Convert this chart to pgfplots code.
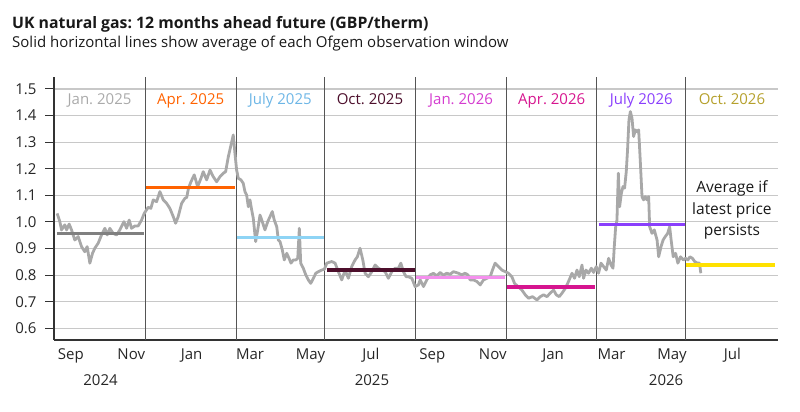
\documentclass[border=0pt]{standalone}
\usepackage{pgfplots}
\pgfplotsset{compat=1.18}
\usepackage{fontspec}
\setmainfont{Open Sans}
\frenchspacing

\definecolor{priceline}{HTML}{A8A8A8}
\definecolor{gridgray}{HTML}{C8C8C8}
\definecolor{axisdark}{HTML}{333333}
\definecolor{winline}{HTML}{555555}
\definecolor{janAline}{HTML}{808080}
\definecolor{janAtext}{HTML}{AAAAAA}
\definecolor{aprA}{HTML}{FF6200}
\definecolor{julAline}{HTML}{8ED4F5}
\definecolor{julAtext}{HTML}{6DB6E6}
\definecolor{octA}{HTML}{4D0F2C}
\definecolor{janBline}{HTML}{F590EE}
\definecolor{janBtext}{HTML}{D43CCF}
\definecolor{aprB}{HTML}{D6158F}
\definecolor{julB}{HTML}{8A3FFC}
\definecolor{octBline}{HTML}{FFE100}
\definecolor{octBtext}{HTML}{B5A02C}

% day 0 = 1 Aug 2024; values in GBP/therm
\pgfplotstableread{
d v
17.2 1.032
19.9 1.001
21.6 0.970
24.9 0.989
26.7 0.970
29.3 0.992
31.7 0.970
35.0 0.932
38.4 0.945
41.8 0.907
45.1 0.888
47.5 0.907
50.2 0.845
52.9 0.882
55.2 0.901
58.6 0.920
62.0 0.951
65.4 0.976
67.7 0.951
70.4 0.976
73.7 0.957
77.2 0.951
80.5 0.970
84.6 1.001
87.3 0.976
89.9 1.007
92.3 0.976
95.7 0.985
99.0 0.985
102.4 1.007
105.1 1.032
109.1 1.055
111.8 1.051
114.2 1.083
117.6 1.076
120.9 1.114
124.3 1.083
127.7 1.070
131.0 1.051
134.4 1.020
136.8 0.995
139.4 1.020
142.9 1.070
146.2 1.089
148.0 1.092
149.8 1.127
152.3 1.151
155.6 1.177
159.0 1.133
162.4 1.164
164.7 1.189
168.1 1.158
171.5 1.195
174.8 1.170
178.2 1.151
181.6 1.170
184.9 1.183
187.3 1.189
190.0 1.245
192.7 1.289
195.0 1.327
196.7 1.258
198.4 1.195
200.1 1.164
202.8 1.158
205.1 1.145
206.8 1.114
208.5 1.101
210.2 1.057
211.9 1.083
213.6 1.045
215.2 1.014
217.6 0.926
219.7 0.970
222.0 1.026
224.3 1.001
227.0 0.970
229.8 1.001
232.1 1.020
234.4 1.039
236.4 1.007
238.9 0.982
240.5 0.932
242.2 0.926
244.5 0.895
246.5 0.857
249.0 0.882
251.3 0.863
253.3 0.845
255.6 0.857
258.1 0.857
260.1 0.863
261.7 0.976
263.1 0.845
265.7 0.826
268.2 0.801
270.8 0.782
273.2 0.769
275.9 0.788
278.3 0.807
280.9 0.813
284.3 0.819
287.0 0.822
289.4 0.845
294.4 0.851
297.8 0.845
301.1 0.813
304.5 0.782
307.9 0.819
311.2 0.788
314.6 0.832
318.0 0.857
320.3 0.869
323.0 0.901
325.8 0.857
328.1 0.807
331.4 0.794
334.9 0.813
338.2 0.838
341.5 0.826
345.0 0.819
348.3 0.813
351.6 0.788
355.1 0.813
358.4 0.826
361.7 0.826
364.2 0.845
366.8 0.813
369.5 0.794
371.8 0.794
375.3 0.788
378.6 0.757
382.0 0.763
383.7 0.782
387.1 0.757
390.4 0.782
393.8 0.801
397.1 0.807
400.5 0.797
403.9 0.810
407.0 0.800
410.6 0.807
414.0 0.803
417.3 0.813
422.4 0.807
425.8 0.801
429.1 0.807
431.9 0.801
434.2 0.782
437.5 0.782
441.0 0.776
444.3 0.763
447.7 0.782
451.1 0.788
454.4 0.794
456.7 0.819
459.4 0.845
462.8 0.832
466.2 0.819
469.6 0.813
472.9 0.807
476.3 0.794
479.0 0.769
482.4 0.757
486.4 0.744
489.8 0.726
493.1 0.713
497.1 0.719
501.6 0.707
505.0 0.719
508.3 0.726
511.7 0.719
515.0 0.732
518.4 0.744
521.1 0.726
524.1 0.719
526.9 0.732
530.2 0.750
533.5 0.776
537.0 0.807
539.6 0.788
542.0 0.819
544.3 0.794
547.1 0.838
548.7 0.788
551.1 0.819
553.7 0.807
556.5 0.826
558.8 0.810
561.5 0.832
563.8 0.807
566.3 0.845
568.9 0.832
571.6 0.819
574.0 0.863
576.4 0.838
578.4 0.826
579.7 0.907
581.1 0.982
582.4 1.007
583.8 1.183
585.1 1.057
586.8 1.107
588.5 1.133
590.1 1.127
591.8 1.189
593.1 1.271
594.5 1.383
595.9 1.415
597.6 1.390
599.2 1.321
600.9 1.346
602.6 1.339
604.3 1.346
605.9 1.233
607.7 1.095
609.3 1.083
611.0 1.095
612.7 1.083
614.4 1.095
615.4 0.982
617.8 0.957
620.1 0.970
622.9 0.932
624.5 0.869
626.9 0.907
629.0 0.932
631.2 0.945
633.6 0.957
635.6 0.982
637.1 0.932
639.2 0.869
641.6 0.882
643.9 0.845
646.6 0.869
649.4 0.857
651.7 0.863
654.0 0.857
656.1 0.869
658.6 0.863
660.9 0.851
663.7 0.845
665.7 0.845
667.1 0.807
}\pricedata

\begin{document}
\begin{tikzpicture}
\useasboundingbox (0,0) rectangle (800pt,412pt);

\node[anchor=base west, inner sep=0pt, font=\bfseries\fontsize{15.8}{18}\selectfont, text=black!90]
  at (12pt,383pt) {UK natural gas: 12 months ahead future (GBP/therm)};
\node[anchor=base west, inner sep=0pt, font=\fontsize{15}{17}\selectfont, text=black!90]
  at (12pt,364pt) {Solid horizontal lines show average of each Ofgem observation window};

\begin{axis}[
  at={(54pt,72pt)}, anchor=south west,
  scale only axis, width=724pt, height=263pt,
  xmin=14, xmax=745, ymin=0.556, ymax=1.545,
  axis x line*=bottom, axis y line*=left,
  x axis line style={axisdark, line width=1.2pt},
  y axis line style={axisdark, line width=1.6pt},
  ytick={0.6,0.7,0.8,0.9,1.0,1.1,1.2,1.3,1.4,1.5},
  yticklabel style={xshift=-5pt, /pgf/number format/.cd, fixed, fixed zerofill, precision=1},
  /pgf/number format/assume math mode=true,
  xtick={31,92,153,212,273,334,396,457,518,577,638,699},
  xticklabels={Sep,Nov,Jan,Mar,May,Jul,Sep,Nov,Jan,Mar,May,Jul},
  tick align=outside, major tick length=9pt,
  tick style={axisdark, line width=1pt},
  xtick style={draw=none},
  tick label style={font=\fontsize{15}{17}\selectfont, text=black!85},
  xticklabel style={anchor=base, yshift=-11pt},
  ymajorgrids, major grid style={gridgray, line width=1.1pt},
  extra x ticks={106,198,287,379,471,562,652},
  extra x tick labels={},
  extra x tick style={xmajorgrids=true, xtick style={draw=none},
    major grid style={winline, line width=0.8pt}},
  clip=false,
]
\addplot[priceline, line width=2.8pt, line join=round] table[x=d, y=v] {\pricedata};

% averages over each observation window
\addplot[janAline, line width=3.2pt] coordinates {(17,0.957) (105,0.957)};
\addplot[aprA, line width=3.2pt] coordinates {(107,1.129) (197,1.129)};
\addplot[julAline, line width=3.2pt] coordinates {(198.5,0.941) (287,0.941)};
\addplot[octA, line width=3.2pt] coordinates {(289.4,0.819) (378.6,0.819)};
\addplot[janBline, line width=3.2pt] coordinates {(380,0.791) (469.6,0.791)};
\addplot[aprB, line width=3.2pt] coordinates {(471,0.755) (560.5,0.755)};
\addplot[julB, line width=3.2pt] coordinates {(563.8,0.991) (651.4,0.991)};
\addplot[octBline, line width=3.2pt] coordinates {(652.5,0.838) (742.4,0.838)};

\begin{scope}[every node/.style={anchor=base, font=\fontsize{15}{17}\selectfont}]
\node[text=janAtext] at (axis cs:60,1.442) {Jan. 2025};
\node[text=aprA] at (axis cs:152,1.442) {Apr. 2025};
\node[text=julAtext] at (axis cs:242.5,1.442) {July 2025};
\node[text=octA] at (axis cs:333,1.442) {Oct. 2025};
\node[text=janBtext] at (axis cs:425,1.442) {Jan. 2026};
\node[text=aprB] at (axis cs:516.5,1.442) {Apr. 2026};
\node[text=julB] at (axis cs:607,1.442) {July 2026};
\node[text=octBtext] at (axis cs:698.5,1.442) {Oct. 2026};
\end{scope}

\node[align=center, font=\fontsize{15.5}{21.5}\selectfont, text=black!90]
  at (axis cs:698.5,1.045) {Average if\\latest price\\persists};

\begin{scope}[every node/.style={anchor=base, font=\fontsize{15}{17}\selectfont, text=black!85}]
\node at (axis cs:61,0.556) [yshift=-46pt] {2024};
\node at (axis cs:335,0.556) [yshift=-46pt] {2025};
\node at (axis cs:632,0.556) [yshift=-46pt] {2026};
\end{scope}
\end{axis}
\end{tikzpicture}
\end{document}
